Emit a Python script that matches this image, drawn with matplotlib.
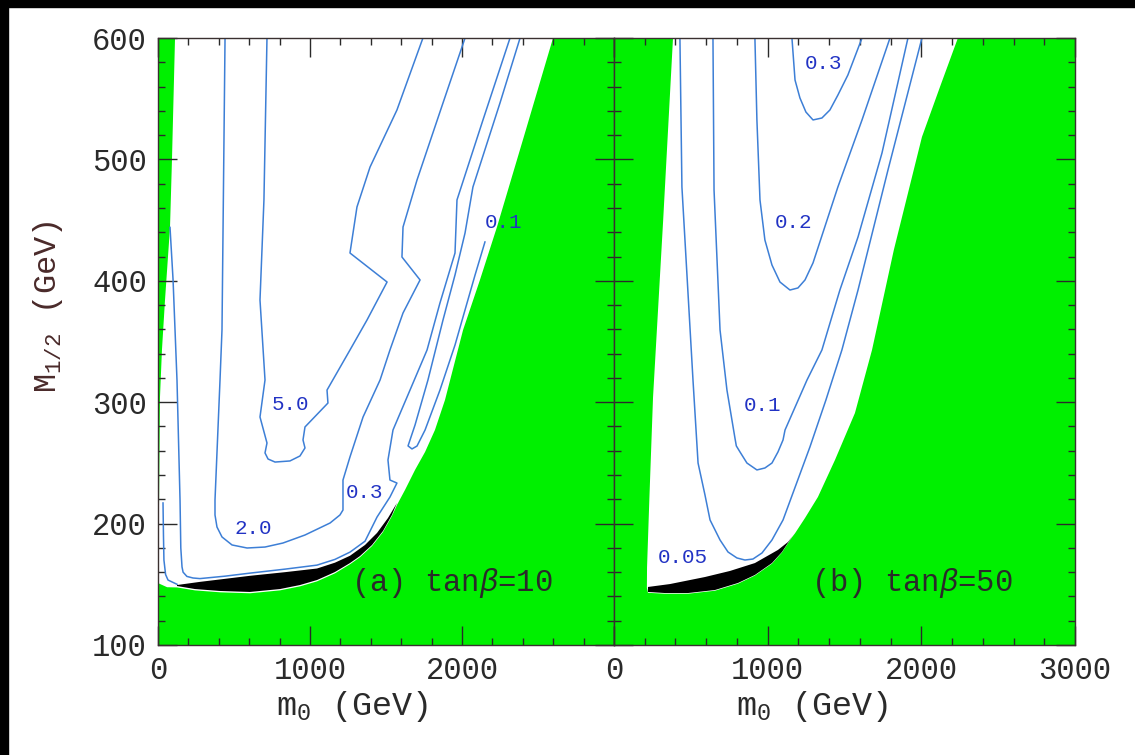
import numpy as np
import matplotlib.pyplot as plt
from matplotlib.patches import Rectangle
from matplotlib.ticker import MultipleLocator

plt.rcParams['font.family'] = ['Liberation Mono', 'DejaVu Sans Mono']
plt.rcParams['mathtext.fontset'] = 'custom'
plt.rcParams['mathtext.rm'] = 'Liberation Mono'
plt.rcParams['mathtext.it'] = 'Liberation Mono:italic'

green = '#00f000'; line_c = '#3d7fd6'; lab_c = '#2233c4'; txt_c = '#2a2a2a'

# ---------------- (a) tan(beta)=10 ----------------
# allowed (white) region, rest of the plane is green
a_white_m0 = [112, 92, 79, 46, 26, 13, 7, 0, 60, 125, 243, 408, 605, 803, 934, 1046, 1164, 1263, 1329, 1408,
              1480, 1539, 1572, 1625, 1691, 1757, 1822, 1888, 2007, 2118, 2230, 2414, 2599]
a_white_M = [600, 500, 444, 384, 343, 304, 219, 151, 147.6, 147.4, 145, 143.4, 142.6, 145, 148.3, 152.4, 159, 166.5, 172.3, 181.5,
             193, 206.2, 215.3, 227.7, 244.2, 259, 277.1, 301.8, 359.5, 400.7, 444.3, 521.7, 600]

# coannihilation strip: upper edge then lower edge back
a_black_m0 = [125, 276, 441, 605, 836, 1046, 1164, 1263, 1362, 1441, 1513, 1572,
              1539, 1480, 1408, 1329, 1263, 1164, 1046, 934, 803, 605, 408, 243, 125]
a_black_M = [149.4, 152, 154.5, 157, 160, 163, 167.8, 173.5, 182.4, 192.3, 204.6, 217,
             207.1, 193.9, 182.4, 173.3, 167.5, 160.1, 153.5, 149.4, 146.1, 143.7, 144.5, 146.1, 148.6]

a_c50_m0 = [1743, 1572, 1395, 1309, 1263, 1507, 1375, 1263, 1112, 1118, 967, 954, 967, 934, 868, 770, 724, 704, 717, 671, 704, 671, 697, 717]
a_c50_M = [600, 540.7, 493.7, 460.8, 422.9, 399, 367.7, 343, 310, 299.3, 279.6, 268.9, 262.3, 255.7, 251.6, 250.7, 253.2, 258.2, 266.4, 287.8, 318.3, 384.2, 466.6, 600]

a_c20_m0 = [2020, 1875, 1704, 1612, 1605, 1724, 1612, 1526, 1461, 1349, 1263, 1217, 1217, 1197, 1132, 967, 822, 704, 586, 487, 421, 388, 375, 375, 408, 421, 441]
a_c20_M = [600, 546.5, 483, 444.3, 419.6, 400.7, 373.5, 343, 318.3, 287.8, 254.9, 235.9, 211.2, 207.1, 200.5, 190.6, 184, 180.7, 179.9, 182.4, 189, 197.2, 207.1, 219.4, 318.3, 359.5, 600]

a_c03_m0 = [2316, 2138, 1967, 1954, 1855, 1770, 1658, 1546, 1513, 1526, 1572, 1526, 1441, 1362, 1263, 1164, 1046, 836, 605, 441, 276,
            230, 190, 165, 158, 150, 145, 125, 99, 79]
a_c03_M = [600, 532.5, 466.6, 422.9, 381.7, 343, 310, 277.1, 252.4, 235.9, 233.4, 221.9, 205.4, 185.5, 176.5, 170.5, 165.8, 162.5, 159.2, 156.7, 154.7,
           155.2, 156.5, 160, 164.3, 180, 219, 318, 401, 444]

a_c01_m0 = [2382, 2250, 2072, 2020, 1954, 1875, 1776, 1691, 1658, 1645, 1671, 1704, 1757, 1855, 1954, 2020, 2086, 2151]
a_c01_M = [600, 546.5, 477.3, 439.4, 404.8, 367.7, 318.3, 281.2, 268.9, 264, 261.5, 263.9, 277.1, 310, 347.1, 376, 404.8, 432]

a_edge_m0 = [33, 36, 39, 50, 66, 125]
a_edge_M = [217, 190, 170, 158, 153.5, 150]

a_labels = ['5.0', '2.0', '0.3', '0.1']
a_label_m0 = [868, 625, 1360, 2270]
a_label_M = [297.7, 195.6, 226, 448.4]

# ---------------- (b) tan(beta)=50 ----------------
b_white_m0 = [384, 320, 254, 230, 215, 214, 221, 332, 481, 657, 807, 917, 1028, 1093, 1158, 1178, 1243, 1327, 1438,
              1568, 1679, 1821, 2004, 2121, 2238]
b_white_M = [600, 450, 304, 220, 164, 147, 143, 142.2, 142.2, 144.7, 150.5, 157.2, 167, 176.2, 188.7, 192, 204.6, 221.9, 252.4,
             291.1, 343, 425.4, 518.5, 559.6, 600]

b_black_m0 = [221, 364, 592, 755, 917, 1067, 1132, 1178, 1158, 1093, 1028, 917, 807, 657, 481, 332, 221]
b_black_M = [147.8, 150.2, 156, 161, 167.5, 178.3, 184.8, 192.3, 189, 176.6, 167.5, 157.7, 151.1, 145.3, 142.8, 142.8, 143.7]

b_c005_m0 = [429, 442, 514, 547, 592, 625, 690, 742, 800, 852, 904, 963, 1028, 1100, 1275, 1379, 1483, 1588, 1783, 2004]
b_c005_M = [600, 477.3, 318.3, 249.9, 223.6, 203, 186.5, 176.6, 171.7, 170, 170.8, 175.8, 186.5, 203, 263.1, 301.8, 343, 392.4, 491.3, 600]

b_c01_m0 = [644, 651, 690, 735, 787, 796, 820, 865, 930, 982, 1028, 1067, 1100, 1113, 1256, 1353, 1470, 1588, 1744, 1913]
b_c01_M = [600, 474.8, 359.5, 310, 270.5, 264, 259, 249.9, 244.2, 245.8, 249.9, 259, 268.9, 277.1, 318.3, 343, 392.4, 436.1, 505.3, 600]

b_c02_m0 = [917, 930, 950, 982, 1028, 1080, 1145, 1197, 1243, 1295, 1457, 1614, 1796]
b_c02_M = [600, 532.5, 466.6, 433.6, 413, 399, 392.4, 394.1, 400.7, 414.7, 477.3, 532.5, 600]

b_c03_m0 = [1158, 1178, 1210, 1249, 1295, 1353, 1405, 1457, 1522, 1614]
b_c03_M = [600, 565.4, 550.6, 539, 532.5, 534.1, 540.7, 553, 569.5, 600]

b_labels = ['0.3', '0.2', '0.1', '0.05']
b_label_m0 = [1366, 1171, 969, 449]
b_label_M = [579.4, 448.4, 296.9, 171.7]

fig = plt.figure(figsize=(11.35, 7.55), dpi=100)
fig.patch.set_facecolor('white')
fig.patches.append(Rectangle((0, 1 - 7 / 755), 1, 7 / 755, transform=fig.transFigure, color='black', zorder=0))
fig.patches.append(Rectangle((0, 0), 8 / 1135, 1, transform=fig.transFigure, color='black', zorder=0))

ax_a = fig.add_axes([158 / 1135, 110 / 755, 456 / 1135, 607 / 755])
ax_b = fig.add_axes([614 / 1135, 110 / 755, 461 / 1135, 607 / 755])

panels = [
    (ax_a, a_white_m0, a_white_M, a_black_m0, a_black_M,
     [(a_c50_m0, a_c50_M), (a_c20_m0, a_c20_M), (a_c03_m0, a_c03_M), (a_c01_m0, a_c01_M), (a_edge_m0, a_edge_M)],
     a_labels, a_label_m0, a_label_M, r'(a) tan$\beta$=10', 1270),
    (ax_b, b_white_m0, b_white_M, b_black_m0, b_black_M,
     [(b_c005_m0, b_c005_M), (b_c01_m0, b_c01_M), (b_c02_m0, b_c02_M), (b_c03_m0, b_c03_M)],
     b_labels, b_label_m0, b_label_M, r'(b) tan$\beta$=50', 1280),
]

for ax, wx, wy, bx, by, curves, labs, lx, ly, title, tx in panels:
    ax.set_facecolor(green)
    ax.fill(wx, wy, color='white', lw=0, zorder=1)
    for cx, cy in curves:
        ax.plot(cx, cy, color=line_c, lw=1.1, zorder=2)
    ax.fill(bx, by, color='black', lw=0, zorder=3)
    for s, x, y in zip(labs, lx, ly):
        ax.text(x, y, s, color=lab_c, fontsize=15, ha='center', va='center', zorder=4)
    ax.text(tx, 151, title, color=txt_c, fontsize=22, ha='left', va='center', zorder=4)
    ax.set_xlim(0, 3000); ax.set_ylim(100, 600)
    ax.xaxis.set_major_locator(MultipleLocator(1000)); ax.xaxis.set_minor_locator(MultipleLocator(200))
    ax.yaxis.set_major_locator(MultipleLocator(100)); ax.yaxis.set_minor_locator(MultipleLocator(20))
    ax.tick_params(which='both', direction='in', top=True, right=True, colors=txt_c, labelsize=22, pad=8)
    ax.tick_params(which='major', length=14, width=1)
    ax.tick_params(which='minor', length=5, width=1)
    for sp in ax.spines.values():
        sp.set_color('#3a3030'); sp.set_linewidth(1)
    ax.set_xlabel(r'm$_0$ (GeV)', fontsize=24, color=txt_c)

ax_a.set_xticks([0, 1000, 2000, 3000]); ax_a.set_xticklabels(['0', '1000', '2000', ''])
ax_a.set_ylabel(r'M$_{1/2}$ (GeV)', fontsize=23, color='#4a2a2a')
ax_b.set_yticklabels([])

# label placement (axes fractions)
ax_a.xaxis.set_label_coords(0.425, -0.072)
ax_b.xaxis.set_label_coords(0.43, -0.072)
ax_a.yaxis.set_label_coords(-0.205, 0.557)

plt.savefig('out.png', dpi=100)
